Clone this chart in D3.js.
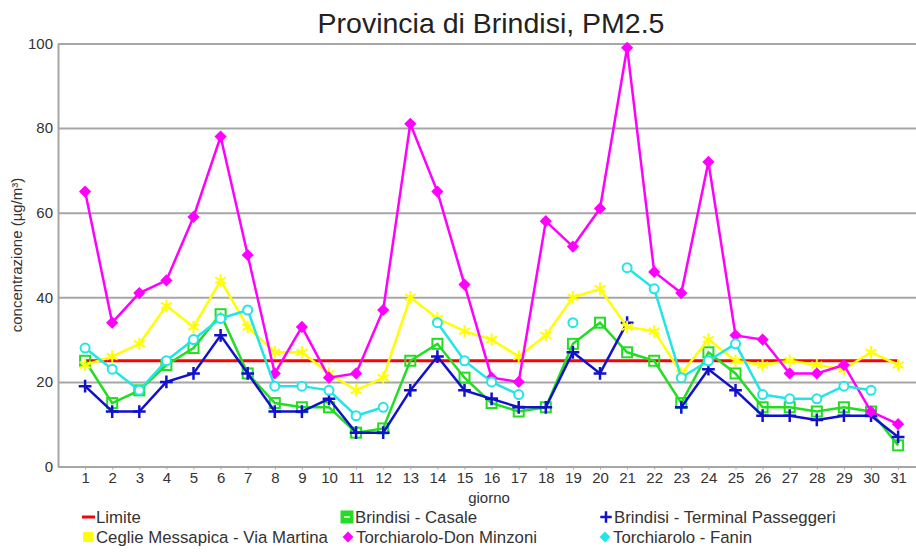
<!DOCTYPE html>
<html>
<head>
<meta charset="utf-8">
<script src="https://cdn.jsdelivr.net/npm/d3@7"></script>
<style>
  body { margin: 0; background: #fff; }
  text { font-family: "Liberation Sans", Arial, sans-serif; fill: #333; }
</style>
</head>
<body>
<div id="container"></div>
<script>
/* DATA */
const days = d3.range(1, 32)
const yTicks = [0, 20, 40, 60, 80, 100]
const limite = days.map(() => 25)
const casale = [25, 15, 18, 24, 28, 36, 22, 15, 14, 14, 8, 9, 25, 29, 21, 15, 13, 14, 29, 34, 27, 25, 15, 27, 22, 14, 14, 13, 14, 13, 5]
const terminal = [19, 13, 13, 20, 22, 31, 22, 13, 13, 16, 8, 8, 18, 26, 18, 16, 14, 14, 27, 22, 34, null, 14, 23, 18, 12, 12, 11, 12, 12, 7]
const ceglie = [24, 26, 29, 38, 33, 44, 33, 27, 27, 22, 18, 21, 40, 35, 32, 30, 26, 31, 40, 42, 33, 32, 22, 30, 25, 24, 25, 24, 23, 27, 24]
const donMinzoni = [65, 34, 41, 44, 59, 78, 50, 22, 33, 21, 22, 37, 81, 65, 43, 21, 20, 58, 52, 61, 99, 46, 41, 72, 31, 30, 22, 22, 24, 13, 10]
const fanin = [28, 23, 18, 25, 30, 35, 37, 19, 19, 18, 12, 14, null, 34, 25, 20, 17, null, 34, null, 47, 42, 21, 25, 29, 17, 16, 16, 19, 18, null]

const series = [
  { name: "Limite", values: limite, color: "#ff0000", marker: "none" },
  { name: "Brindisi - Casale", values: casale, color: "#22dd22", marker: "square" },
  { name: "Brindisi - Terminal Passeggeri", values: terminal, color: "#1111cc", marker: "plus" },
  { name: "Ceglie Messapica - Via Martina", values: ceglie, color: "#ffff00", marker: "asterisk" },
  { name: "Torchiarolo-Don Minzoni", values: donMinzoni, color: "#ff00ff", marker: "diamond" },
  { name: "Torchiarolo - Fanin", values: fanin, color: "#22e6e6", marker: "circle" }
]

const width = 916, height = 552
const margin = { top: 43.5, left: 58, bottom: 466.5 }

const svg = d3.select("#container").append("svg")
  .attr("width", width)
  .attr("height", height)

/* SCALES */
const xScale = d3.scaleLinear().domain([0, 31.66]).range([margin.left, width])
const yScale = d3.scaleLinear().domain([0, 100]).range([margin.bottom, margin.top])

// title
svg.append("text")
  .attr("x", 491).attr("y", 33)
  .attr("text-anchor", "middle")
  .style("font-size", "28.5px")
  .style("fill", "#222")
  .text("Provincia di Brindisi, PM2.5")

// y axis + grid
const yAxis = d3.axisLeft(yScale)
  .tickValues(yTicks)
  .tickSizeInner(-(width - margin.left))
  .tickSizeOuter(0)
  .tickPadding(5)
svg.append("g")
  .attr("transform", `translate(${margin.left},0)`)
  .call(yAxis)
  .call(g => g.selectAll(".tick line").attr("stroke", "#a6a6a6").attr("stroke-width", 2))
  .call(g => g.select(".domain").attr("stroke", "#a6a6a6").attr("stroke-width", 2))
  .call(g => g.selectAll("text").style("font-size", "15px").style("fill", "#333"))

// x axis
const xAxis = d3.axisBottom(xScale)
  .tickValues(days)
  .tickFormat(d3.format("d"))
  .tickSizeInner(3)
  .tickSizeOuter(0)
  .tickPadding(3)
svg.append("g")
  .attr("transform", `translate(0,${margin.bottom})`)
  .call(xAxis)
  .call(g => g.select(".domain").remove())
  .call(g => g.selectAll(".tick line").attr("stroke", "#a6a6a6"))
  .call(g => g.selectAll("text").style("font-size", "15px").style("fill", "#333"))

// axis titles
svg.append("text")
  .attr("x", 489).attr("y", 503)
  .attr("text-anchor", "middle")
  .style("font-size", "15px")
  .text("giorno")

svg.append("text")
  .attr("transform", "translate(22,255) rotate(-90)")
  .attr("text-anchor", "middle")
  .style("font-size", "15px")
  .text("concentrazione (µg/m³)")

/* LINES */
const line = d3.line()
  .defined(d => d.v != null)
  .x(d => xScale(d.day))
  .y(d => yScale(d.v))

function drawMarker(g, type, color, legend) {
  if (type === "square") {
    const s = legend ? 11 : 10
    g.append("rect").attr("x", -s / 2).attr("y", -s / 2).attr("width", s).attr("height", s)
      .attr("fill", legend ? color : "none").attr("stroke", color).attr("stroke-width", 2)
    if (legend) g.append("line").attr("x1", -3).attr("x2", 3).attr("stroke", "#fff").attr("stroke-width", 1.5)
  } else if (type === "plus") {
    g.append("path").attr("d", d3.symbol(d3.symbolPlus, legend ? 45 : 55)())
      .attr("fill", "none").attr("stroke", color).attr("stroke-width", 2.5)
  } else if (type === "asterisk") {
    g.append("path").attr("d", d3.symbol(d3.symbolAsterisk, legend ? 90 : 110)())
      .attr("fill", "none").attr("stroke", color).attr("stroke-width", 2)
  } else if (type === "diamond") {
    g.append("path").attr("d", d3.symbol(d3.symbolDiamond2, legend ? 75 : 95)())
      .attr("fill", color)
  } else if (type === "circle") {
    if (legend) {
      g.append("path").attr("d", d3.symbol(d3.symbolDiamond2, 75)()).attr("fill", color)
    } else {
      g.append("circle").attr("r", 4.5).attr("fill", "#fff").attr("stroke", color).attr("stroke-width", 2)
    }
  }
}

series.forEach(s => {
  const pts = s.values.map((v, i) => ({ day: days[i], v }))
  svg.append("path")
    .datum(pts)
    .attr("fill", "none")
    .attr("stroke", s.color)
    .attr("stroke-width", s.marker === "none" ? 3 : 2.5)
    .attr("d", line)

  if (s.marker !== "none") {
    svg.append("g").selectAll("g")
      .data(pts.filter(d => d.v != null))
      .join("g")
      .attr("transform", d => `translate(${xScale(d.day)},${yScale(d.v)})`)
      .each(function () { drawMarker(d3.select(this), s.marker, s.color, false) })
  }
})

/* LEGEND */
const legendPos = [[88, 517], [347, 517], [606, 517], [88, 537], [348, 537], [605, 537]]
series.forEach((s, i) => {
  const [lx, ly] = legendPos[i]
  const g = svg.append("g").attr("transform", `translate(${lx},${ly})`)
  if (s.marker === "none") {
    g.append("line").attr("x1", -6).attr("x2", 7).attr("stroke", s.color).attr("stroke-width", 3)
  } else if (s.marker === "asterisk") {
    g.append("rect").attr("x", -5).attr("y", -5).attr("width", 10).attr("height", 10).attr("fill", s.color)
  } else {
    drawMarker(g, s.marker, s.color, true)
  }
  g.append("text")
    .attr("x", 8)
    .attr("dy", "0.36em")
    .style("font-size", "16.8px")
    .text(s.name)
})
</script>
</body>
</html>
